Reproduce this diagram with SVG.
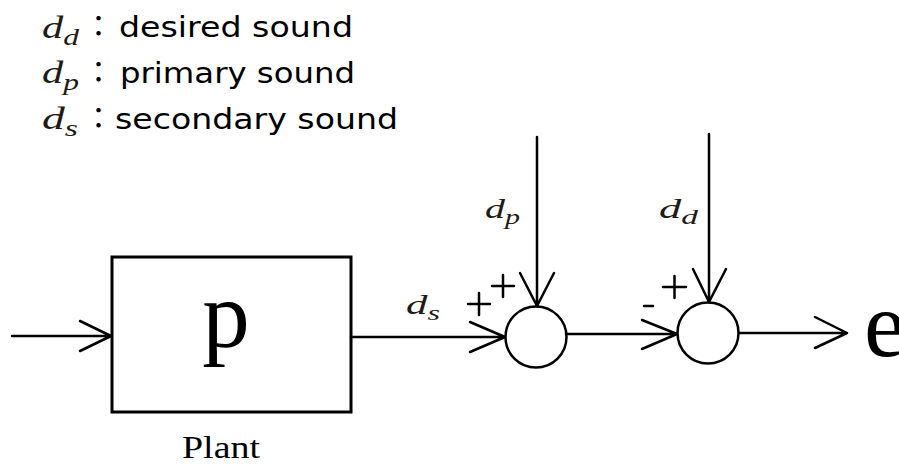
<svg xmlns="http://www.w3.org/2000/svg" width="899" height="464" viewBox="0 0 899 464">
<style>
.ln{fill:none;stroke:#000;stroke-width:2.5;stroke-linecap:round;stroke-linejoin:round}
.box{fill:#fff;stroke:#000;stroke-width:3}
.sum{fill:#fff;stroke:#000;stroke-width:2.5}
.math{font-family:"Liberation Serif",serif;font-style:italic;fill:#1e1a14}
.leg{font-family:"DejaVu Sans","Liberation Sans",sans-serif;font-size:28px;fill:#000}
.col{font-family:"Noto Sans CJK KR",sans-serif;font-size:29px;fill:#000}
.big{font-family:"Liberation Serif",serif;fill:#000}
</style>
<rect width="899" height="464" fill="#fff"/>
<g id="legend">
  <text class="math" x="42" y="38" font-size="31" textLength="37" lengthAdjust="spacingAndGlyphs">d<tspan font-size="23" dy="7">d</tspan></text>
  <text class="col" x="84" y="37">：</text>
  <text class="leg" x="119" y="37" textLength="234" lengthAdjust="spacingAndGlyphs">desired sound</text>
  <text class="math" x="42" y="83" font-size="31" textLength="37" lengthAdjust="spacingAndGlyphs">d<tspan font-size="23" dy="7">p</tspan></text>
  <text class="col" x="84" y="83">：</text>
  <text class="leg" x="120" y="83" textLength="235" lengthAdjust="spacingAndGlyphs">primary sound</text>
  <text class="math" x="42" y="129" font-size="31" textLength="36" lengthAdjust="spacingAndGlyphs">d<tspan font-size="23" dy="7">s</tspan></text>
  <text class="col" x="84" y="129">：</text>
  <text class="leg" x="115" y="129" textLength="283" lengthAdjust="spacingAndGlyphs">secondary sound</text>
</g>
<g id="plant">
  <rect class="box" x="112" y="257" width="239" height="155"/>
  <text class="big" x="226" y="347" font-size="95" text-anchor="middle">p</text>
  <text class="big" x="182" y="458" font-size="31" textLength="78" lengthAdjust="spacingAndGlyphs">Plant</text>
</g>
<g id="sum1">
  <circle class="sum" cx="536" cy="337" r="30.5"/>
</g>
<g id="sum2">
  <circle class="sum" cx="708" cy="333" r="30.5"/>
</g>
<g id="output">
  <text class="big" x="864" y="356" font-size="94">e</text>
</g>
<g id="connectors">
  <path class="ln" d="M12 336H111M80 321L111 336L80 351"/>
  <path class="ln" d="M351 337H505M470 322L505 337L470 352"/>
  <path class="ln" d="M537 137V306M520 273L537 306L554 273"/>
  <path class="ln" d="M566 334H677M642 320L677 334L642 349"/>
  <path class="ln" d="M709 134V302M693 269L709 302L726 269"/>
  <path class="ln" d="M739 333H847M815 317L847 333L815 348"/>
</g>
<g id="labels">
  <text class="math" x="485" y="218" font-size="28" textLength="35" lengthAdjust="spacingAndGlyphs">d<tspan font-size="21" dy="6">p</tspan></text>
  <text class="math" x="659" y="218" font-size="28" textLength="39" lengthAdjust="spacingAndGlyphs">d<tspan font-size="21" dy="6">d</tspan></text>
  <text class="math" x="406" y="314" font-size="28" textLength="34" lengthAdjust="spacingAndGlyphs">d<tspan font-size="21" dy="6">s</tspan></text>
  <path class="ln" d="M468 304H490M479 293V315M492 286H514M503 275V297M663 287H686M674.5 276V298M644 306H653"/>
</g>
</svg>
